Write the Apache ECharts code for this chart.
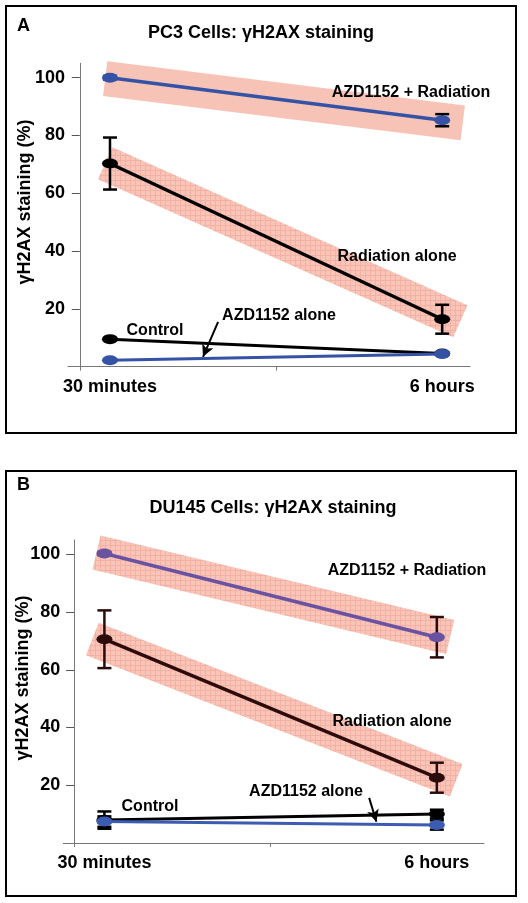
<!DOCTYPE html>
<html><head><meta charset="utf-8">
<script src="https://cdn.jsdelivr.net/npm/echarts@6/dist/echarts.min.js"></script>
<style>html,body{margin:0;padding:0;background:#fff}#c{width:528px;height:903px}</style>
</head><body><div id="c"></div>
<script>
// ---- shared ----
const times = [0.5, 6];                 // hours
const timeLabels = ['30 minutes', '6 hours'];
const yTicks = [20, 40, 60, 80, 100];
const xTicks = [0, 3.25];

// ---- Panel A: PC3 ----
const pc3Combo = [100, 85.3];
const pc3ComboErr = [0.6, 2.1];
const pc3Rad = [70.3, 16.4];
const pc3RadErr = [9, 5];
const pc3Control = [9.5, 4.5];
const pc3Azd = [2.2, 4.4];
const pc3ComboBand = [[0.42, 99.7], [6.34, 84.4]];
const pc3RadBand = [[0.42, 70.4], [6.30, 15.7]];
const pc3Arrow = [[2.29, 15.5], [2.04, 3.4]];

// ---- Panel B: DU145 ----
const du145Combo = [100.3, 71.3];
const du145ComboErr = [0.5, 7];
const du145Rad = [70.6, 22.6];
const du145RadErr = [10, 5.2];
const du145Control = [7.9, 10.0];
const du145ControlErr = [3, 1.5];
const du145Azd = [7.4, 6.2];
const du145AzdErr = [1.8, 1.6];
const du145ComboBand = [[0.37, 100.7], [6.22, 71.4]];
const du145RadBand = [[0.30, 70.7], [6.32, 21.7]];
const du145Arrow = [[4.88, 15.6], [5.00, 7.35]];

const FONT = '"Liberation Sans", Arial, Helvetica, sans-serif';

function hatchCanvas() {
  const c = document.createElement('canvas');
  c.width = 5; c.height = 5;
  const g = c.getContext('2d');
  g.fillStyle = '#f9c5b9'; g.fillRect(0, 0, 5, 5);
  g.fillStyle = '#f3b0a3'; g.fillRect(0, 0, 5, 1); g.fillRect(0, 0, 1, 5);
  return c;
}
const hatch = { image: hatchCanvas(), repeat: 'repeat' };
const solidBand = '#f8c3b7';

function pts(vals) { return times.map((t, i) => [t, vals[i]]); }

function bandS(data, color, idx) {
  return { type: 'line', xAxisIndex: idx, yAxisIndex: idx, data: data, symbol: 'none',
    lineStyle: { color: color, width: 35, cap: 'butt' }, z: 1, silent: true, animation: false };
}
function lineS(vals, color, width, idx, z, extra) {
  return Object.assign({ type: 'line', xAxisIndex: idx, yAxisIndex: idx, data: pts(vals),
    symbol: 'circle', symbolSize: [16, 10], showSymbol: true,
    lineStyle: { color: color, width: width }, itemStyle: { color: color },
    z: z, silent: true, animation: false }, extra || {});
}
function errS(vals, errs, color, idx) {
  return { type: 'custom', xAxisIndex: idx, yAxisIndex: idx, z: 3, silent: true, animation: false,
    data: times.map((t, i) => [t, vals[i], errs[i]]),
    renderItem: function (p, api) {
      const x = api.value(0), y = api.value(1), e = api.value(2);
      const a = api.coord([x, y + e]), b = api.coord([x, y - e]);
      const hw = 7, st = { stroke: color, lineWidth: 2.5 };
      return { type: 'group', children: [
        { type: 'line', shape: { x1: a[0], y1: a[1], x2: b[0], y2: b[1] }, style: st },
        { type: 'line', shape: { x1: a[0] - hw, y1: a[1], x2: a[0] + hw, y2: a[1] }, style: st },
        { type: 'line', shape: { x1: b[0] - hw, y1: b[1], x2: b[0] + hw, y2: b[1] }, style: st }
      ] };
    } };
}
function arrowML(seg) {
  return { silent: true, symbol: ['none', 'arrow'], symbolSize: [9, 12], animation: false,
    lineStyle: { color: '#000', width: 2, type: 'solid' }, label: { show: false },
    data: [[{ coord: seg[0] }, { coord: seg[1] }]] };
}

function xAx(idx, min, max) {
  return { type: 'value', gridIndex: idx, min: min, max: max,
    axisLine: { show: true, lineStyle: { color: '#777', width: 1 } },
    axisTick: { show: true, customValues: xTicks, length: 4, lineStyle: { color: '#777' } },
    axisLabel: { customValues: times, margin: 11,
      formatter: v => timeLabels[times.indexOf(v)] || '',
      color: '#000', fontSize: 18, fontWeight: 'bold', fontFamily: FONT },
    splitLine: { show: false } };
}
function yAx(idx) {
  return { type: 'value', gridIndex: idx, min: 0, max: 105, interval: 20,
    axisLine: { show: true, onZero: true, lineStyle: { color: '#777', width: 1 } },
    axisTick: { show: true, customValues: yTicks, length: 8, lineStyle: { color: '#555' } },
    axisLabel: { customValues: yTicks, margin: 3, color: '#000', fontSize: 18,
      fontWeight: 'bold', fontFamily: FONT },
    splitLine: { show: false } };
}

function txt(x, y, s, size, align) {
  return { type: 'text', x: x, y: y, z: 100, silent: true,
    style: { text: s, fill: '#000', font: 'bold ' + size + 'px ' + FONT,
      align: align || 'center', verticalAlign: 'middle' } };
}

const chart = echarts.init(document.getElementById('c'), null, { renderer: 'canvas' });
chart.setOption({
  backgroundColor: '#fff',
  animation: false,
  grid: [
    { left: 68, top: 63.3, width: 402, height: 303.3 },
    { left: 63.3, top: 540, width: 420.7, height: 302.9 }
  ],
  xAxis: [xAx(0, -0.195, 6.46), xAx(1, -0.18, 6.78)],
  yAxis: [yAx(0), yAx(1)],
  series: [
    // Panel A
    bandS(pc3ComboBand, solidBand, 0),
    bandS(pc3RadBand, hatch, 0),
    errS(pc3Combo, pc3ComboErr, '#000', 0),
    errS(pc3Rad, pc3RadErr, '#000', 0),
    lineS(pc3Control, '#000', 3, 0, 4),
    lineS(pc3Azd, '#3553a6', 3, 0, 5, { markLine: arrowML(pc3Arrow) }),
    lineS(pc3Rad, '#000', 3.5, 0, 6),
    lineS(pc3Combo, '#3553a6', 3.5, 0, 7),
    // Panel B
    bandS(du145ComboBand, hatch, 1),
    bandS(du145RadBand, hatch, 1),
    errS(du145Combo, du145ComboErr, '#2a0b0b', 1),
    errS(du145Rad, du145RadErr, '#2a0b0b', 1),
    errS(du145Control, du145ControlErr, '#000', 1),
    errS(du145Azd, du145AzdErr, '#000', 1),
    lineS(du145Control, '#000', 3, 1, 4),
    lineS(du145Azd, '#3b5cb2', 3, 1, 5, { markLine: arrowML(du145Arrow) }),
    lineS(du145Rad, '#2e0b0b', 3.5, 1, 6),
    lineS(du145Combo, '#6a52a3', 3.5, 1, 7)
  ],
  graphic: [
    { type: 'rect', z: 100, shape: { x: 6, y: 6, width: 510, height: 427 }, style: { fill: 'none', stroke: '#000', lineWidth: 2 }, silent: true },
    { type: 'rect', z: 100, shape: { x: 6, y: 471, width: 510, height: 425 }, style: { fill: 'none', stroke: '#000', lineWidth: 2 }, silent: true },
    txt(17, 26, 'A', 18, 'left'),
    txt(261, 33, 'PC3 Cells: γH2AX staining', 18),
    { type: 'text', x: 25, y: 202, z: 100, rotation: Math.PI / 2, silent: true,
      style: { text: 'γH2AX staining (%)', fill: '#000', font: 'bold 18px ' + FONT, align: 'center', verticalAlign: 'middle' } },
    txt(411, 93, 'AZD1152 + Radiation', 16),
    txt(397, 257, 'Radiation alone', 16),
    txt(155, 331, 'Control', 16),
    txt(279, 316, 'AZD1152 alone', 16),
    txt(17, 485, 'B', 18, 'left'),
    txt(273, 508, 'DU145 Cells: γH2AX staining', 18),
    { type: 'text', x: 23, y: 678, z: 100, rotation: Math.PI / 2, silent: true,
      style: { text: 'γH2AX staining (%)', fill: '#000', font: 'bold 18px ' + FONT, align: 'center', verticalAlign: 'middle' } },
    txt(407, 571, 'AZD1152 + Radiation', 16),
    txt(392, 722, 'Radiation alone', 16),
    txt(150, 807, 'Control', 16),
    txt(306, 792, 'AZD1152 alone', 16)
  ]
});
</script>
</body></html>
